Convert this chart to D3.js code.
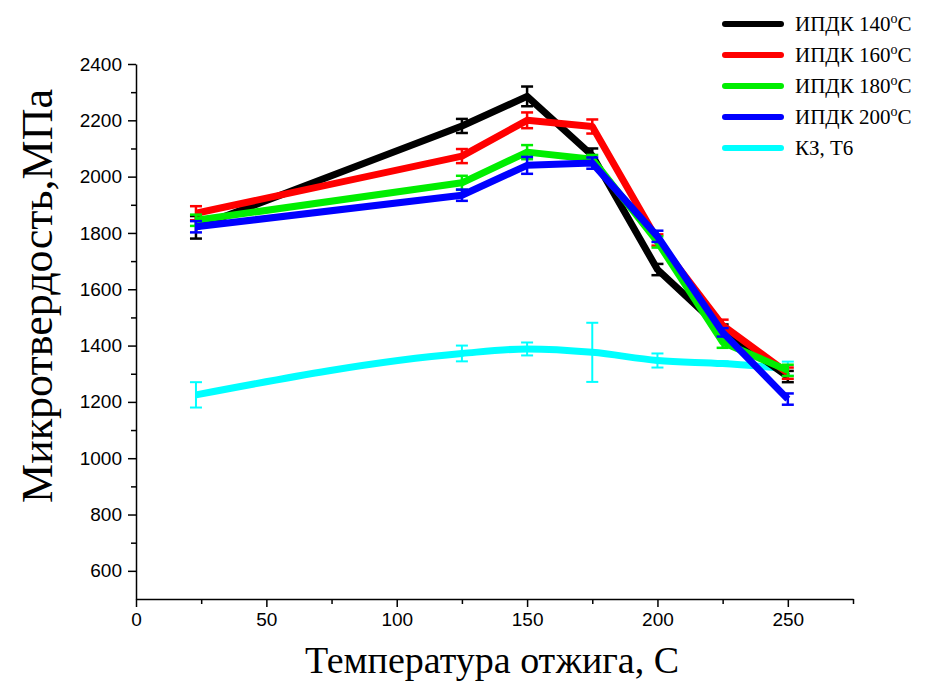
<!DOCTYPE html>
<html><head><meta charset="utf-8">
<script src="https://cdn.jsdelivr.net/npm/d3@7"></script>
<style>body{margin:0;background:#fff}svg{display:block}</style>
</head><body>
<svg id="c" width="925" height="684"></svg>
<script>
const temps = [23, 125, 150, 175, 200, 225, 250];
const seriesNames = ["ИПДК 140", "ИПДК 160", "ИПДК 180", "ИПДК 200", "КЗ, Т6"];
const seriesColors = ["#000000", "#ff0000", "#00ee00", "#0000ff", "#00ffff"];
const s140 = [1820, 2180, 2285, 2075, 1670, 1455, 1290];
const s160 = [1870, 2073, 2200, 2178, 1775, 1472, 1302];
const s180 = [1845, 1978, 2087, 2062, 1768, 1412, 1312];
const s200 = [1822, 1934, 2040, 2048, 1788, 1447, 1210];
const sKZ  = [1225, 1372, 1388, 1376, 1347, 1336, 1318];
const e140 = [40, 25, 35, 25, 20, 20, 20];
const e160 = [25, 25, 28, 25, 20, 20, 20];
const e180 = [20, 25, 25, 15, 20, 20, 20];
const e200 = [20, 20, 30, 20, 20, 15, 20];
const eKZ  = [45, 28, 23, 105, 25, 8, 25];
const xTicks = [0, 50, 100, 150, 200, 250];
const yTicks = [600, 800, 1000, 1200, 1400, 1600, 1800, 2000, 2200, 2400];

const svg = d3.select("#c");
const x = d3.scaleLinear().domain([0, 275]).range([136, 853]);
const y = d3.scaleLinear().domain([500, 2400]).range([599, 64]);

const fmt = d3.format("d");
const xAxis = d3.axisBottom(x).tickValues(xTicks).tickSize(8).tickSizeOuter(0).tickPadding(6).tickFormat(fmt);
const xMinor = d3.axisBottom(x).tickValues(d3.range(25, 276, 50)).tickSize(5).tickFormat("");
const yAxis = d3.axisLeft(y).tickValues(yTicks).tickSize(8).tickSizeOuter(0).tickPadding(6).tickFormat(fmt);
const yMinor = d3.axisLeft(y).tickValues(d3.range(700, 2400, 200)).tickSize(5).tickFormat("");

function style(g){
  g.selectAll("path.domain").attr("stroke","#000").attr("stroke-width",1.5);
  g.selectAll("line").attr("stroke","#000").attr("stroke-width",1.5);
  g.selectAll("text").attr("font-family","Liberation Sans, Arial, sans-serif").attr("font-size",19).attr("fill","#000");
}
svg.append("g").attr("transform","translate(0,599)").call(xAxis).call(style);
svg.append("g").attr("transform","translate(0,599)").call(xMinor).call(style).select(".domain").remove();
svg.append("g").attr("transform","translate(136,0)").call(yAxis).call(style);
svg.append("g").attr("transform","translate(136,0)").call(yMinor).call(style).select(".domain").remove();

svg.append("text").attr("x", 492).attr("y", 673).attr("text-anchor","middle")
  .attr("font-family","Liberation Serif, Times New Roman, serif").attr("font-size",38).text("Температура отжига, С");
svg.append("text").attr("transform","translate(52,296) rotate(-90)").attr("text-anchor","middle")
  .attr("font-family","Liberation Serif, Times New Roman, serif").attr("font-size",44).text("Микротвердость,МПа");

const values = [s140, s160, s180, s200, sKZ];
const errs = [e140, e160, e180, e200, eKZ];
const order = [4, 0, 1, 2, 3];
order.forEach(i => {
  const data = temps.map((t, j) => ({t, v: values[i][j], e: errs[i][j]}));
  const line = d3.line().x(d => x(d.t)).y(d => y(d.v)).curve(i === 4 ? d3.curveMonotoneX : d3.curveLinear);
  const g = svg.append("g");
  g.append("path").datum(data).attr("d", line).attr("fill","none")
    .attr("stroke", seriesColors[i]).attr("stroke-width", 7).attr("stroke-linejoin","round");
  const eb = g.selectAll("g.eb").data(data).join("g");
  const ew = i === 4 ? 2 : 2.5;
  eb.append("line").attr("x1", d => x(d.t)).attr("x2", d => x(d.t))
    .attr("y1", d => y(d.v + d.e)).attr("y2", d => y(d.v - d.e)).attr("stroke", seriesColors[i]).attr("stroke-width", ew);
  eb.append("line").attr("x1", d => x(d.t) - 6).attr("x2", d => x(d.t) + 6)
    .attr("y1", d => y(d.v + d.e)).attr("y2", d => y(d.v + d.e)).attr("stroke", seriesColors[i]).attr("stroke-width", ew);
  eb.append("line").attr("x1", d => x(d.t) - 6).attr("x2", d => x(d.t) + 6)
    .attr("y1", d => y(d.v - d.e)).attr("y2", d => y(d.v - d.e)).attr("stroke", seriesColors[i]).attr("stroke-width", ew);
});

const leg = svg.append("g");
const rowY = [24, 55, 86, 117, 148];
seriesNames.forEach((n, i) => {
  leg.append("line").attr("x1", 725).attr("x2", 781).attr("y1", rowY[i]).attr("y2", rowY[i])
    .attr("stroke", seriesColors[i]).attr("stroke-width", 6).attr("stroke-linecap","round");
  const t = leg.append("text").attr("x", 795).attr("y", rowY[i] + 7)
    .attr("font-family","Liberation Serif, Times New Roman, serif").attr("font-size", 21).attr("fill","#000");
  t.append("tspan").text(n);
  if (i < 4) {
    t.append("tspan").attr("dy", -8).attr("font-size", 14).text("o");
    t.append("tspan").attr("dy", 8).text("C");
  }
});
</script>
</body></html>
